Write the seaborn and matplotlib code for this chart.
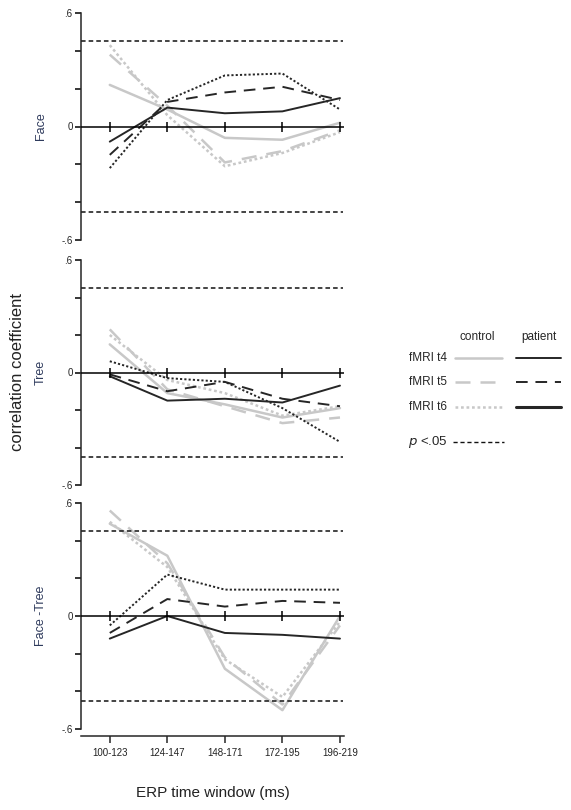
import numpy as np
import pandas as pd
import seaborn as sns
import matplotlib.pyplot as plt
from matplotlib.lines import Line2D

windows = ['100-123', '124-147', '148-171', '172-195', '196-219']
conditions = ['Face', 'Tree', 'Face -Tree']
sessions = ['fMRI t4', 'fMRI t5', 'fMRI t6']
p_crit = 0.45

# control group (gray lines)
face_control_t4 = [0.22, 0.09, -0.06, -0.07, 0.02]
face_control_t5 = [0.38, 0.11, -0.19, -0.13, -0.02]
face_control_t6 = [0.43, 0.06, -0.21, -0.14, -0.03]
tree_control_t4 = [0.15, -0.11, -0.17, -0.24, -0.19]
tree_control_t5 = [0.23, -0.09, -0.18, -0.27, -0.24]
tree_control_t6 = [0.20, -0.04, -0.11, -0.23, -0.18]
diff_control_t4 = [0.49, 0.32, -0.28, -0.50, 0.00]
diff_control_t5 = [0.56, 0.28, -0.22, -0.47, -0.05]
diff_control_t6 = [0.50, 0.26, -0.23, -0.43, -0.03]

# patient (black lines)
face_patient_t4 = [-0.08, 0.10, 0.07, 0.08, 0.15]
face_patient_t5 = [-0.15, 0.13, 0.18, 0.21, 0.14]
face_patient_t6 = [-0.22, 0.14, 0.27, 0.28, 0.09]
tree_patient_t4 = [-0.02, -0.15, -0.14, -0.16, -0.07]
tree_patient_t5 = [-0.01, -0.10, -0.05, -0.14, -0.18]
tree_patient_t6 = [0.06, -0.03, -0.05, -0.19, -0.37]
diff_patient_t4 = [-0.12, 0.00, -0.09, -0.10, -0.12]
diff_patient_t5 = [-0.09, 0.09, 0.05, 0.08, 0.07]
diff_patient_t6 = [-0.05, 0.22, 0.14, 0.14, 0.14]

series = {
    ('Face', 'control'): [face_control_t4, face_control_t5, face_control_t6],
    ('Tree', 'control'): [tree_control_t4, tree_control_t5, tree_control_t6],
    ('Face -Tree', 'control'): [diff_control_t4, diff_control_t5, diff_control_t6],
    ('Face', 'patient'): [face_patient_t4, face_patient_t5, face_patient_t6],
    ('Tree', 'patient'): [tree_patient_t4, tree_patient_t5, tree_patient_t6],
    ('Face -Tree', 'patient'): [diff_patient_t4, diff_patient_t5, diff_patient_t6],
}

rows = []
for (cond, group), vals in series.items():
    for sess, v in zip(sessions, vals):
        for i, r in enumerate(v):
            rows.append(dict(condition=cond, group=group, session=sess, pos=i, r=r))
df = pd.DataFrame(rows)

sns.set_style('ticks')
plt.rcParams['font.family'] = ['Liberation Sans', 'DejaVu Sans']

colors = {'control': '#c8c8c8', 'patient': '#262626'}
widths = {'control': 1.8, 'patient': 1.4}
styles = {
    'fMRI t4': '-',
    'fMRI t5': (0, (6, 4)),
    'fMRI t6': (0, (1.1, 1.1)),
}

W, H = 571, 810
fig = plt.figure(figsize=(W / 100, H / 100), dpi=100)

panel_px = [(13, 240), (260, 485), (503, 729)]
left_px, width_px = 81, 263
xs = np.arange(len(windows))

for k, (cond, (top, bot)) in enumerate(zip(conditions, panel_px)):
    ax = fig.add_axes([left_px / W, 1 - bot / H, width_px / W, (bot - top) / H])
    sub = df[df.condition == cond]
    for group in ['control', 'patient']:
        for sess in sessions:
            d = sub[(sub.group == group) & (sub.session == sess)]
            sns.lineplot(data=d, x='pos', y='r', ax=ax, color=colors[group],
                         linewidth=widths[group], linestyle=styles[sess],
                         zorder=2 if group == 'control' else 3)
    # significance thresholds
    for c in (p_crit, -p_crit):
        ax.axhline(c, color='#111111', lw=1.1, ls=(0, (3, 2)), xmax=0.995)
    # zero line with category ticks
    ax.axhline(0, color='black', lw=1.1, zorder=4)
    ax.plot(xs, np.zeros(len(xs)), ls='none', marker='|', ms=7.5, mew=1.1,
            color='black', zorder=4)

    ax.set_xlim(-0.5, 4.07)
    ax.set_ylim(-0.6, 0.6)
    ax.set_yticks([-0.6, -0.4, -0.2, 0, 0.2, 0.4, 0.6])
    ax.set_yticklabels(['-.6', '', '', '0', '', '', '.6'])
    ax.tick_params(axis='y', length=4, width=1.1, labelsize=7, pad=2,
                   colors='black', labelcolor='#222222')
    ax.spines['left'].set_linewidth(1.1)
    ax.spines['top'].set_visible(False)
    ax.spines['right'].set_visible(False)
    ax.set_ylabel(cond, fontsize=9, color='#2e3a5c')
    ax.yaxis.set_label_coords(-0.13, 0.5)
    ax.set_xlabel('')
    ax.grid(False)

    if k < 2:
        ax.spines['bottom'].set_visible(False)
        ax.set_xticks([])
    else:
        ax.spines['bottom'].set_position(('outward', 5))
        ax.spines['bottom'].set_linewidth(1.1)
        ax.set_xticks(xs)
        ax.set_xticklabels(windows)
        ax.tick_params(axis='x', length=5, width=1.1, labelsize=7, pad=4,
                       labelcolor='#222222')
        ax.set_xlabel('ERP time window (ms)', fontsize=11, labelpad=20,
                      color='#222222')

fig.text(18 / W, 1 - 372 / H, 'correlation coefficient', rotation=90,
         ha='center', va='center', fontsize=12, color='#222222')

# custom legend
def fx(px):
    return px / W

def fy(py):
    return 1 - py / H

fig.text(fx(477), fy(337), 'control', ha='center', va='center', fontsize=8.5)
fig.text(fx(539), fy(337), 'patient', ha='center', va='center', fontsize=8.5)
legend_styles = {'fMRI t4': '-', 'fMRI t5': (0, (6, 4)), 'fMRI t6': (0, (1.1, 1.1))}
for sess, ypx in zip(sessions, [358, 382, 407]):
    fig.text(fx(447), fy(ypx), sess, ha='right', va='center', fontsize=8.5)
    fig.add_artist(Line2D([fx(455), fx(502)], [fy(ypx), fy(ypx)],
                          color=colors['control'], lw=1.8,
                          ls=legend_styles[sess]))
    pat_ls = '-' if sess == 'fMRI t6' else legend_styles[sess]
    pat_lw = 2.2 if sess == 'fMRI t6' else 1.4
    fig.add_artist(Line2D([fx(516), fx(561)], [fy(ypx), fy(ypx)],
                          color=colors['patient'], lw=pat_lw, ls=pat_ls))
fig.text(fx(428), fy(442), r'$p$ <.05', ha='center', va='center', fontsize=9.5)
fig.add_artist(Line2D([fx(453), fx(504)], [fy(442), fy(442)],
                      color='#111111', lw=1.0, ls=(0, (3, 2))))

fig.savefig('out.png', dpi=100)
